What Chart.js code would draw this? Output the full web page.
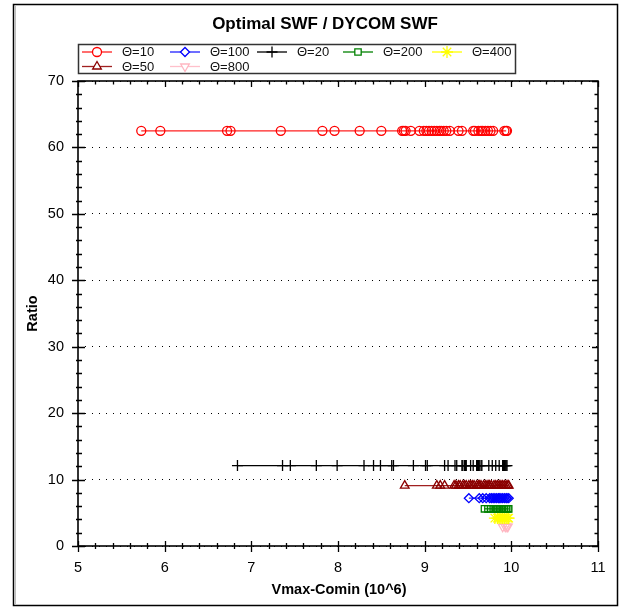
<!DOCTYPE html>
<html>
<head>
<meta charset="utf-8">
<script src="https://cdn.jsdelivr.net/npm/chart.js@4/dist/chart.umd.min.js"></script>
<style>
html,body{margin:0;padding:0;background:#fff;}
canvas{display:block;}
</style>
</head>
<body>
<canvas id="c" width="621" height="610"></canvas>
<script>
// ---- data ----
const chartTitle = "Optimal SWF / DYCOM SWF";
const xTitle = "Vmax-Comin (10^6)";
const yTitle = "Ratio";
const legendLabels = ["Θ=10", "Θ=100", "Θ=20", "Θ=200", "Θ=400", "Θ=50", "Θ=800"];

const t10X = [5.73, 5.95, 6.72, 6.76, 7.34, 7.82, 7.96, 8.25, 8.50, 8.74,
              8.76, 8.78, 8.84, 8.94, 8.99, 9.02, 9.05, 9.08, 9.11, 9.14,
              9.17, 9.19, 9.22, 9.25, 9.29, 9.39, 9.43, 9.56, 9.58, 9.62,
              9.65, 9.67, 9.70, 9.73, 9.76, 9.79, 9.92, 9.94, 9.95];
const t10Y = [62.5, 62.5, 62.5, 62.5, 62.5, 62.5, 62.5, 62.5, 62.5, 62.5,
              62.5, 62.5, 62.5, 62.5, 62.5, 62.5, 62.5, 62.5, 62.5, 62.5,
              62.5, 62.5, 62.5, 62.5, 62.5, 62.5, 62.5, 62.5, 62.5, 62.5,
              62.5, 62.5, 62.5, 62.5, 62.5, 62.5, 62.5, 62.5, 62.5];

const t20X = [6.84, 7.36, 7.45, 7.75, 7.99, 8.30, 8.41, 8.49, 8.62, 8.64,
              8.87, 9.01, 9.03, 9.23, 9.27, 9.35, 9.37, 9.43, 9.44, 9.46,
              9.47, 9.48, 9.53, 9.56, 9.60, 9.61, 9.62, 9.63, 9.65, 9.66,
              9.74, 9.78, 9.82, 9.86, 9.90, 9.91, 9.92, 9.93, 9.94, 9.95];
const t20Y = [12.1, 12.1, 12.1, 12.1, 12.1, 12.1, 12.1, 12.1, 12.1, 12.1,
              12.1, 12.1, 12.1, 12.1, 12.1, 12.1, 12.1, 12.1, 12.1, 12.1,
              12.1, 12.1, 12.1, 12.1, 12.1, 12.1, 12.1, 12.1, 12.1, 12.1,
              12.1, 12.1, 12.1, 12.1, 12.1, 12.1, 12.1, 12.1, 12.1, 12.1];

const t50X = [8.77, 9.14, 9.18, 9.23, 9.34, 9.36, 9.39, 9.41, 9.44, 9.46,
              9.48, 9.51, 9.53, 9.55, 9.57, 9.60, 9.62, 9.63, 9.65, 9.68,
              9.70, 9.72, 9.74, 9.75, 9.77, 9.80, 9.82, 9.84, 9.86, 9.88,
              9.90, 9.92, 9.94, 9.96, 9.97];
const t50Y = [9.1, 9.1, 9.1, 9.1, 9.1, 9.1, 9.1, 9.1, 9.1, 9.1,
              9.1, 9.1, 9.1, 9.1, 9.1, 9.1, 9.1, 9.1, 9.1, 9.1,
              9.1, 9.1, 9.1, 9.1, 9.1, 9.1, 9.1, 9.1, 9.1, 9.1,
              9.1, 9.1, 9.1, 9.1, 9.1];

const t100X = [9.51, 9.63, 9.67, 9.71, 9.75, 9.77, 9.79, 9.81, 9.83, 9.85,
               9.86, 9.88, 9.90, 9.92, 9.94, 9.95, 9.97];
const t100Y = [7.2, 7.2, 7.2, 7.2, 7.2, 7.2, 7.2, 7.2, 7.2, 7.2,
               7.2, 7.2, 7.2, 7.2, 7.2, 7.2, 7.2];

const t200X = [9.69, 9.73, 9.76, 9.79, 9.82, 9.84, 9.86, 9.88, 9.90, 9.92,
               9.94, 9.96, 9.97];
const t200Y = [5.6, 5.6, 5.6, 5.6, 5.6, 5.6, 5.6, 5.6, 5.6, 5.6,
               5.6, 5.6, 5.6];

const t400X = [9.81, 9.84, 9.86, 9.88, 9.90, 9.92, 9.94, 9.96, 9.97];
const t400Y = [4.2, 4.2, 4.2, 4.2, 4.2, 4.2, 4.2, 4.2, 4.2];

const t800X = [9.90, 9.93, 9.95, 9.96];
const t800Y = [2.9, 2.9, 2.9, 2.9];

const xTickValues = [5, 6, 7, 8, 9, 10, 11];
const yTickValues = [0, 10, 20, 30, 40, 50, 60, 70];

// ---- build chart ----
function pts(xs, ys) { return xs.map((x, i) => ({ x: x, y: ys[i] })); }

const FONT = "'Liberation Sans', Arial, sans-serif";

const datasets = [
  { label: legendLabels[0], data: pts(t10X, t10Y), borderColor: '#ff2020', pointBorderColor: '#ff0000',
    pointStyle: 'circle', pointRadius: 4.5, rotation: 0 },
  { label: legendLabels[1], data: pts(t100X, t100Y), borderColor: '#2020ff', pointBorderColor: '#0000ff',
    pointStyle: 'rectRot', pointRadius: 4.5, rotation: 0 },
  { label: legendLabels[2], data: pts(t20X, t20Y), borderColor: '#000000', pointBorderColor: '#000000',
    pointStyle: 'cross', pointRadius: 5.5, rotation: 0 },
  { label: legendLabels[3], data: pts(t200X, t200Y), borderColor: '#008000', pointBorderColor: '#008000',
    pointStyle: 'rect', pointRadius: 4.5, rotation: 0 },
  { label: legendLabels[4], data: pts(t400X, t400Y), borderColor: '#ffff00', pointBorderColor: '#ffff00',
    pointStyle: 'star', pointRadius: 6, rotation: 0 },
  { label: legendLabels[5], data: pts(t50X, t50Y), borderColor: '#a02020', pointBorderColor: '#8b0000',
    pointStyle: 'triangle', pointRadius: 5, rotation: 0 },
  { label: legendLabels[6], data: pts(t800X, t800Y), borderColor: '#ffc0cb', pointBorderColor: '#ffb6c1',
    pointStyle: 'triangle', pointRadius: 5, rotation: 180 }
].map(d => Object.assign({
  showLine: true, borderWidth: 1.2, pointBorderWidth: 1.3,
  pointBackgroundColor: 'rgba(0,0,0,0)', backgroundColor: 'rgba(0,0,0,0)',
  pointHoverRadius: d.pointRadius, clip: false
}, d));

const framePlugin = {
  id: 'framePlugin',
  afterDraw(chart) {
    const ctx = chart.ctx;
    const a = chart.chartArea;
    const xs = chart.scales.x, ys = chart.scales.y;
    ctx.save();
    // outer frame
    ctx.strokeStyle = '#000';
    ctx.lineWidth = 1.5;
    ctx.strokeRect(13.5, 4.5, 604, 601);
    ctx.strokeStyle = '#bdbdbd';
    ctx.lineWidth = 1;
    ctx.beginPath();
    ctx.moveTo(15.5, 6); ctx.lineTo(15.5, 604);
    ctx.stroke();

    // plot frame
    ctx.strokeStyle = '#000';
    ctx.lineWidth = 1.6;
    ctx.strokeRect(a.left, a.top, a.right - a.left, a.bottom - a.top);

    // ticks
    ctx.lineWidth = 1.3;
    ctx.beginPath();
    for (let v = xs.min; v <= xs.max + 1e-9; v += 0.2) {
      const p = Math.round(xs.getPixelForValue(v)) + 0.5;
      const major = Math.abs(v - Math.round(v)) < 1e-6;
      ctx.moveTo(p, a.bottom - (major ? 5 : 3)); ctx.lineTo(p, a.bottom + (major ? 6 : 3));
      ctx.moveTo(p, a.top); ctx.lineTo(p, a.top + (major ? 6 : 3.5));
    }
    for (let v = ys.min; v <= ys.max + 1e-9; v += 2) {
      const p = Math.round(ys.getPixelForValue(v)) + 0.5;
      const major = Math.abs(v / 10 - Math.round(v / 10)) < 1e-6;
      ctx.moveTo(a.left - (major ? 6 : 2), p); ctx.lineTo(a.left + (major ? 7 : 4), p);
      ctx.moveTo(a.right, p); ctx.lineTo(a.right - (major ? 6 : 3.5), p);
    }
    ctx.stroke();

    // title
    ctx.fillStyle = '#000';
    ctx.textAlign = 'center';
    ctx.textBaseline = 'middle';
    ctx.font = 'bold 17px ' + FONT;
    ctx.fillText(chartTitle, 325, 24);

    // axis titles
    ctx.font = 'bold 14.5px ' + FONT;
    ctx.fillText(xTitle, 339, 590);
    ctx.save();
    ctx.translate(33, (a.top + a.bottom) / 2);
    ctx.rotate(-Math.PI / 2);
    ctx.fillText(yTitle, 0, 0);
    ctx.restore();

    // legend
    const lx = 78.5, ly = 44.5, lw = 437, lh = 29;
    ctx.fillStyle = '#fff';
    ctx.fillRect(lx, ly, lw, lh);
    ctx.strokeStyle = '#333';
    ctx.lineWidth = 1.5;
    ctx.strokeRect(lx, ly, lw, lh);
    const cols = [82, 170, 257, 343, 432];
    const rows = [52, 66.5];
    ctx.font = '13px ' + FONT;
    ctx.textAlign = 'left';
    chart.data.datasets.forEach((ds, i) => {
      const cx = cols[i % 5], cy = rows[Math.floor(i / 5)];
      ctx.strokeStyle = ds.borderColor;
      ctx.lineWidth = 1.3;
      ctx.beginPath();
      ctx.moveTo(cx, cy); ctx.lineTo(cx + 30, cy);
      ctx.stroke();
      ctx.strokeStyle = ds.pointBorderColor;
      ctx.fillStyle = '#fff';
      Chart.helpers.drawPoint(ctx, {
        pointStyle: ds.pointStyle, radius: ds.pointRadius, rotation: ds.rotation, borderWidth: 1.3
      }, cx + 15, cy);
      ctx.fillStyle = '#111';
      ctx.fillText(ds.label, cx + 40, cy + 0.5);
    });
    ctx.restore();
  }
};

new Chart(document.getElementById('c'), {
  type: 'scatter',
  data: { datasets: datasets },
  options: {
    responsive: false,
    animation: false,
    events: [],
    layout: { padding: { left: 14, right: 23, top: 81, bottom: 4 } },
    plugins: { legend: { display: false }, title: { display: false }, tooltip: { enabled: false } },
    scales: {
      x: {
        type: 'linear', min: 5, max: 11,
        afterBuildTicks: s => { s.ticks = xTickValues.map(v => ({ value: v })); },
        afterFit: s => { s.height = 60; },
        grid: { display: false, drawTicks: false },
        border: { display: false },
        ticks: { color: '#000', padding: 13, font: { family: FONT, size: 14.5 }, maxRotation: 0 }
      },
      y: {
        type: 'linear', min: 0, max: 70,
        afterBuildTicks: s => { s.ticks = yTickValues.map(v => ({ value: v })); },
        afterFit: s => { s.width = 64; },
        grid: { display: true, drawTicks: false, color: '#000', lineWidth: 1 },
        border: { display: false, dash: [1, 6] },
        ticks: { color: '#000', padding: 14, font: { family: FONT, size: 14.5 } }
      }
    }
  },
  plugins: [framePlugin]
});
</script>
</body>
</html>
